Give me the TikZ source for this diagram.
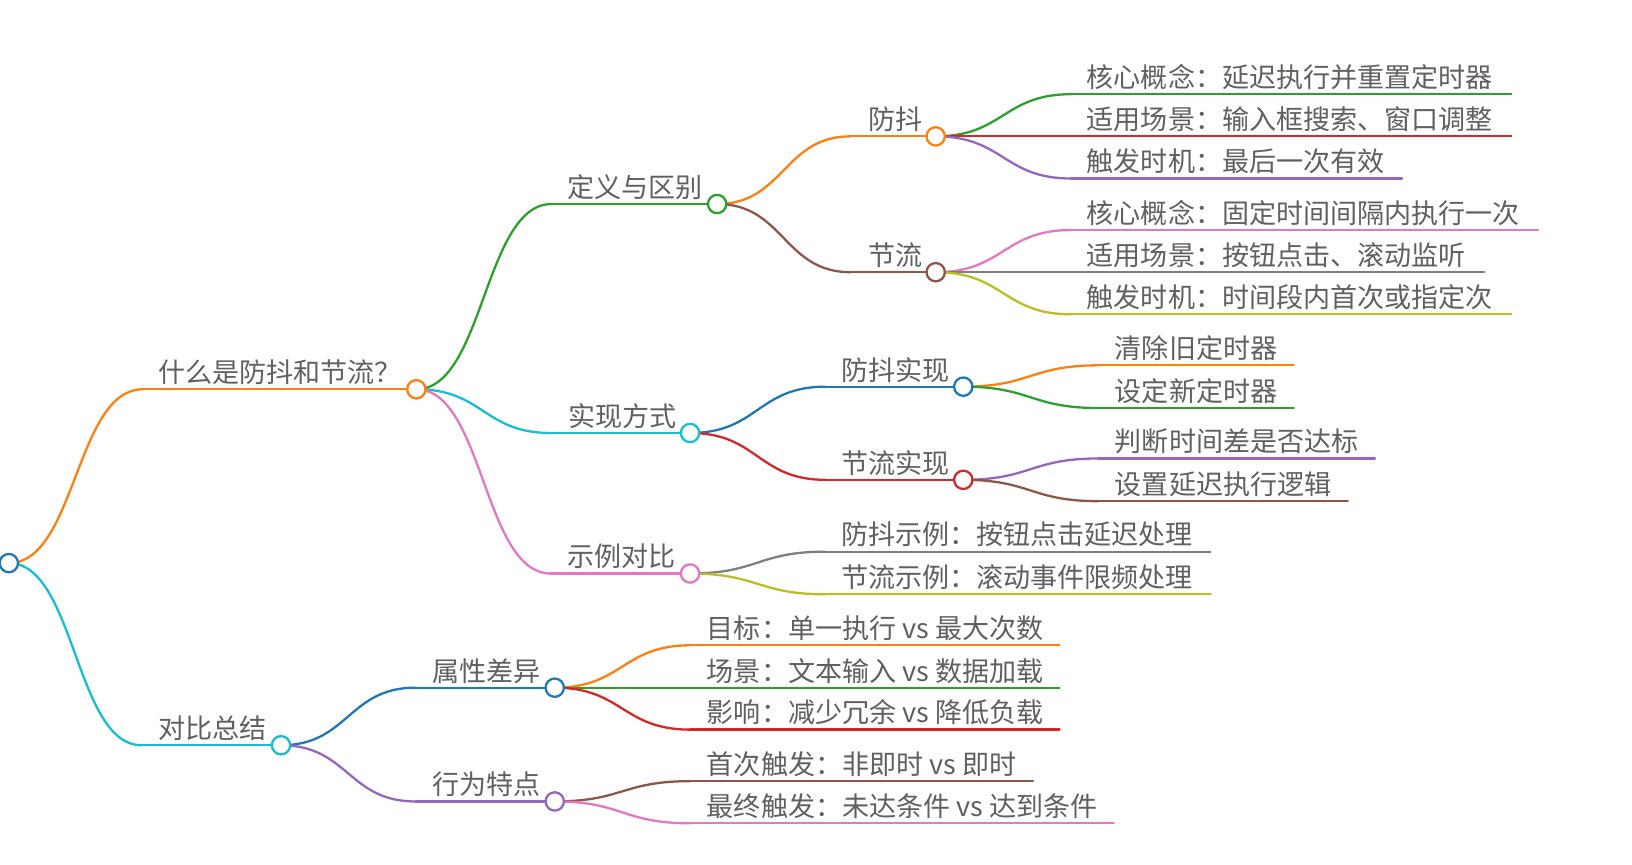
\documentclass[tikz,border=0pt]{standalone}
\usepackage{fontspec}
\setmainfont{Noto Sans CJK SC}
\usetikzlibrary{calc}
\definecolor{cblue}{HTML}{1F77B4}
\definecolor{corange}{HTML}{FF7F0E}
\definecolor{cgreen}{HTML}{2CA02C}
\definecolor{cred}{HTML}{D62728}
\definecolor{cpurple}{HTML}{9467BD}
\definecolor{cbrown}{HTML}{8C564B}
\definecolor{cpink}{HTML}{E377C2}
\definecolor{cgray}{HTML}{7F7F7F}
\definecolor{colive}{HTML}{BCBD22}
\definecolor{ccyan}{HTML}{17BECF}
\definecolor{textgray}{HTML}{606060}
\pgfdeclarelayer{paper}
\pgfdeclarelayer{bg}
\pgfsetlayers{paper,bg,main}
\tikzset{
  link/.style={line width=2.2pt, line cap=round},
  dot/.style={circle, fill=white, line width=2.2pt, minimum size=17.6pt, inner sep=0pt},
  lbl/.style={anchor=south west, inner sep=0pt, text=textgray, font=\fontsize{26pt}{30pt}\selectfont},
}
\newcommand\mmlink[3]{\draw[link,#3] let \p1=(#1), \p2=(#2) in (\p1) .. controls ({(\x1+\x2)/2},\y1) and ({(\x1+\x2)/2},\y2) .. (\p2);}
\begin{document}
\begin{tikzpicture}[x=1pt,y=-1pt]
\useasboundingbox (0,0) rectangle (1568,831);
\begin{pgfonlayer}{paper}
\fill[white] (0,0) rectangle (1568,831);
\end{pgfonlayer}

% ---------- root ----------
\node[dot, draw=cblue] (R) at (8.5,541) {};

% ---------- level 1 ----------
\coordinate (AL) at (137,374);
\node[dot, draw=corange] (A) at (400,374) {};
\node[lbl] (At) at (152,370) {什么是防抖和节流？};

\coordinate (BL) at (136,716);
\node[dot, draw=ccyan] (B) at (270,716) {};
\node[lbl] (Bt) at (152,712) {对比总结};

% ---------- level 2 under A ----------
\coordinate (A1L) at (530,196);
\node[dot, draw=cgreen] (A1) at (689,196) {};
\node[lbl] (A1t) at (545,192) {定义与区别};

\coordinate (A2L) at (529,416);
\node[dot, draw=ccyan] (A2) at (663,416) {};
\node[lbl] (A2t) at (546,412) {实现方式};

\coordinate (A3L) at (529,551);
\node[dot, draw=cpink] (A3) at (663,551) {};
\node[lbl] (A3t) at (545,547) {示例对比};

% ---------- level 3 under A1 ----------
\coordinate (A11L) at (817,131);
\node[dot, draw=corange] (A11) at (899,131) {};
\node[lbl] (A11t) at (834,127) {防抖};

\coordinate (A12L) at (817,261.5);
\node[dot, draw=cbrown] (A12) at (899,261.5) {};
\node[lbl] (A12t) at (834,257.5) {节流};

% ---------- level 3 under A2 ----------
\coordinate (A21L) at (793,371.5);
\node[dot, draw=cblue] (A21) at (925.5,371.5) {};
\node[lbl] (A21t) at (808,367.5) {防抖实现};

\coordinate (A22L) at (793,461);
\node[dot, draw=cred] (A22) at (925.5,461) {};
\node[lbl] (A22t) at (808,457) {节流实现};

% ---------- leaves under A11 ----------
\coordinate (k1L) at (1029,90.5);  \coordinate (k1R) at (1452,90.5);
\node[lbl] (k1) at (1044,86.5) {核心概念：延迟执行并重置定时器};
\coordinate (k2L) at (1029,131);   \coordinate (k2R) at (1452,131);
\node[lbl] (k2) at (1044,127) {适用场景：输入框搜索、窗口调整};
\coordinate (k3L) at (1029,171.5); \coordinate (k3R) at (1347,171.5);
\node[lbl] (k3) at (1044,167.5) {触发时机：最后一次有效};

% ---------- leaves under A12 ----------
\coordinate (j1L) at (1029,221);   \coordinate (j1R) at (1478,221);
\node[lbl] (j1) at (1044,217) {核心概念：固定时间间隔内执行一次};
\coordinate (j2L) at (1029,261.5); \coordinate (j2R) at (1426,261.5);
\node[lbl] (j2) at (1044,257.5) {适用场景：按钮点击、滚动监听};
\coordinate (j3L) at (1029,302);   \coordinate (j3R) at (1452,302);
\node[lbl] (j3) at (1044,298) {触发时机：时间段内首次或指定次};

% ---------- leaves under A21 / A22 ----------
\coordinate (d1L) at (1055,351);   \coordinate (d1R) at (1243,351);
\node[lbl] (d1) at (1071,347) {清除旧定时器};
\coordinate (d2L) at (1055,392);   \coordinate (d2R) at (1243,392);
\node[lbl] (d2) at (1071,388) {设定新定时器};
\coordinate (t1L) at (1055,440.5); \coordinate (t1R) at (1321,440.5);
\node[lbl] (t1) at (1071,436.5) {判断时间差是否达标};
\coordinate (t2L) at (1055,481.5); \coordinate (t2R) at (1295,481.5);
\node[lbl] (t2) at (1071,477.5) {设置延迟执行逻辑};

% ---------- leaves under A3 ----------
\coordinate (e1L) at (793,530);    \coordinate (e1R) at (1163,530);
\node[lbl] (e1) at (808,526) {防抖示例：按钮点击延迟处理};
\coordinate (e2L) at (793,571);    \coordinate (e2R) at (1163,571);
\node[lbl] (e2) at (808,567) {节流示例：滚动事件限频处理};

% ---------- level 2 under B ----------
\coordinate (B1L) at (399,660.7);
\node[dot, draw=cblue] (B1) at (533,660.7) {};
\node[lbl] (B1t) at (415,656.7) {属性差异};

\coordinate (B2L) at (399,770);
\node[dot, draw=cpurple] (B2) at (533,770) {};
\node[lbl] (B2t) at (415,766) {行为特点};

% ---------- leaves under B1 / B2 ----------
\coordinate (p1L) at (663,620);    \coordinate (p1R) at (1018,620);
\node[lbl] (p1) at (679,616) {目标：单一执行 vs 最大次数};
\coordinate (p2L) at (663,660.7);  \coordinate (p2R) at (1018,660.7);
\node[lbl] (p2) at (679,656.7) {场景：文本输入 vs 数据加载};
\coordinate (p3L) at (663,701);    \coordinate (p3R) at (1018,701);
\node[lbl] (p3) at (679,697) {影响：减少冗余 vs 降低负载};
\coordinate (q1L) at (663,750.5);  \coordinate (q1R) at (992.5,750.5);
\node[lbl] (q1) at (679,746.5) {首次触发：非即时 vs 即时};
\coordinate (q2L) at (663,791);    \coordinate (q2R) at (1070,791);
\node[lbl] (q2) at (679,787) {最终触发：未达条件 vs 达到条件};

% ---------- connectors (behind) ----------
\begin{pgfonlayer}{bg}
\mmlink{R.center}{AL}{corange}   \draw[link,corange] (AL) -- (A.center);
\mmlink{R.center}{BL}{ccyan}     \draw[link,ccyan] (BL) -- (B.center);

\mmlink{A.center}{A1L}{cgreen}   \draw[link,cgreen] (A1L) -- (A1.center);
\mmlink{A.center}{A2L}{ccyan}    \draw[link,ccyan] (A2L) -- (A2.center);
\mmlink{A.center}{A3L}{cpink}    \draw[link,cpink] (A3L) -- (A3.center);

\mmlink{A1.center}{A11L}{corange} \draw[link,corange] (A11L) -- (A11.center);
\mmlink{A1.center}{A12L}{cbrown}  \draw[link,cbrown] (A12L) -- (A12.center);

\mmlink{A2.center}{A21L}{cblue}   \draw[link,cblue] (A21L) -- (A21.center);
\mmlink{A2.center}{A22L}{cred}    \draw[link,cred] (A22L) -- (A22.center);

\mmlink{A11.center}{k1L}{cgreen}  \draw[link,cgreen] (k1L) -- (k1R);
\mmlink{A11.center}{k2L}{cred}    \draw[link,cred] (k2L) -- (k2R);
\mmlink{A11.center}{k3L}{cpurple} \draw[link,cpurple] (k3L) -- (k3R);

\mmlink{A12.center}{j1L}{cpink}   \draw[link,cpink] (j1L) -- (j1R);
\mmlink{A12.center}{j2L}{cgray}   \draw[link,cgray] (j2L) -- (j2R);
\mmlink{A12.center}{j3L}{colive}  \draw[link,colive] (j3L) -- (j3R);

\mmlink{A21.center}{d1L}{corange} \draw[link,corange] (d1L) -- (d1R);
\mmlink{A21.center}{d2L}{cgreen}  \draw[link,cgreen] (d2L) -- (d2R);
\mmlink{A22.center}{t1L}{cpurple} \draw[link,cpurple] (t1L) -- (t1R);
\mmlink{A22.center}{t2L}{cbrown}  \draw[link,cbrown] (t2L) -- (t2R);

\mmlink{A3.center}{e1L}{cgray}    \draw[link,cgray] (e1L) -- (e1R);
\mmlink{A3.center}{e2L}{colive}   \draw[link,colive] (e2L) -- (e2R);

\mmlink{B.center}{B1L}{cblue}     \draw[link,cblue] (B1L) -- (B1.center);
\mmlink{B.center}{B2L}{cpurple}   \draw[link,cpurple] (B2L) -- (B2.center);

\mmlink{B1.center}{p1L}{corange}  \draw[link,corange] (p1L) -- (p1R);
\mmlink{B1.center}{p2L}{cgreen}   \draw[link,cgreen] (p2L) -- (p2R);
\mmlink{B1.center}{p3L}{cred}     \draw[link,cred] (p3L) -- (p3R);
\mmlink{B2.center}{q1L}{cbrown}   \draw[link,cbrown] (q1L) -- (q1R);
\mmlink{B2.center}{q2L}{cpink}    \draw[link,cpink] (q2L) -- (q2R);
\end{pgfonlayer}
\end{tikzpicture}
\end{document}
